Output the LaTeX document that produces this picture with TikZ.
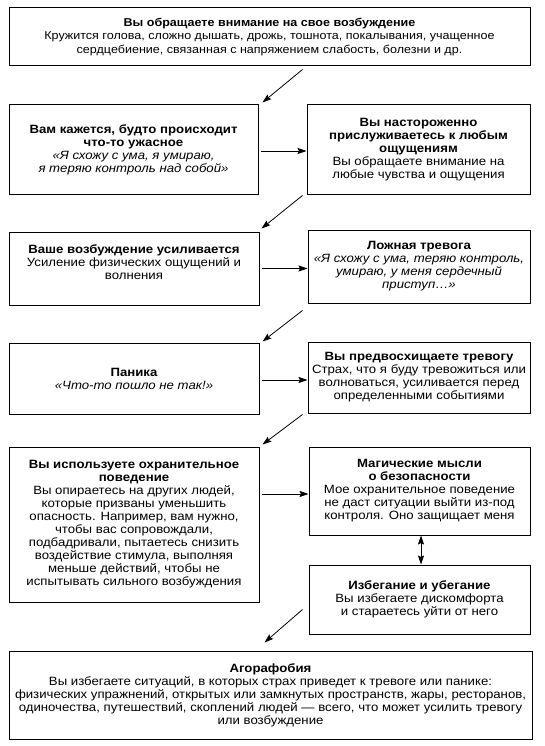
\documentclass[tikz,border=0pt]{standalone}
\usepackage{fontspec}
\setmainfont{Liberation Sans}[FakeStretch=1.1]
\usetikzlibrary{arrows.meta}
\begin{document}
\begin{tikzpicture}[x=1pt,y=-1pt,
  box/.style={draw, line width=1pt, align=center, inner sep=0pt,
    font=\fontsize{12}{13}\selectfont},
  tip/.tip={Stealth[length=9pt,width=6pt,inset=1.5pt]},
  arr/.style={line width=0.8pt, -tip},
  darr/.style={line width=0.8pt, tip-tip}]
\useasboundingbox (0,0) rectangle (545,746);

\node[box, minimum width=521pt, minimum height=58pt, font=\fontsize{11.4}{13.3}\selectfont] (top) at (269.5,37)
  {\textbf{Вы обращаете внимание на свое возбуждение}\\
   Кружится голова, сложно дышать, дрожь, тошнота, покалывания, учащенное\\
   сердцебиение, связанная с напряжением слабость, болезни и др.};

\node[box, minimum width=249pt, minimum height=89pt] (a) at (133.5,149.5)
  {\textbf{Вам кажется, будто происходит}\\
   \textbf{что-то ужасное}\\
   \textit{«Я схожу с ума, я умираю,}\\
   \textit{я теряю контроль над собой»}};

\node[box, minimum width=223pt, minimum height=89pt] (b) at (418.5,149.5)
  {\textbf{Вы настороженно}\\
   \textbf{прислуживаетесь к любым}\\
   \textbf{ощущениям}\\
   Вы обращаете внимание на\\
   любые чувства и ощущения};

\node[box, minimum width=250pt, minimum height=73pt] (c) at (134,268.5)
  {\textbf{Ваше возбуждение усиливается}\\
   Усиление физических ощущений и\\
   волнения\\ \mbox{}};

\node[box, minimum width=222pt, minimum height=73pt] (d) at (419,266.5)
  {\textbf{Ложная тревога}\\
   \textit{«Я схожу с ума, теряю контроль,}\\
   \textit{умираю, у меня сердечный}\\
   \textit{приступ…»}};

\node[box, minimum width=250pt, minimum height=71pt] (e) at (134,378.5)
  {\textbf{Паника}\\
   \textit{«Что-то пошло не так!»}};

\node[box, minimum width=222pt, minimum height=71pt] (f) at (419,377.5)
  {\textbf{Вы предвосхищаете тревогу}\\
   Страх, что я буду тревожиться или\\
   волноваться, усиливается перед\\
   определенными событиями};

\node[box, minimum width=250pt, minimum height=155pt] (g) at (134,524.5)
  {\textbf{Вы используете охранительное}\\
   \textbf{поведение}\\
   Вы опираетесь на других людей,\\
   которые призваны уменьшить\\
   опасность. Например, вам нужно,\\
   чтобы вас сопровождали,\\
   подбадривали, пытаетесь снизить\\
   воздействие стимула, выполняя\\
   меньше действий, чтобы не\\
   испытывать сильного возбуждения};

\node[box, minimum width=221pt, minimum height=88pt] (h) at (419.5,491)
  {\textbf{Магические мысли}\\
   \textbf{о безопасности}\\
   Мое охранительное поведение\\
   не даст ситуации выйти из-под\\
   контроля. Оно защищает меня};

\node[box, minimum width=221pt, minimum height=69pt] (i) at (419.5,599.5)
  {\textbf{Избегание и убегание}\\
   Вы избегаете дискомфорта\\
   и стараетесь уйти от него};

\node[box, minimum width=523pt, minimum height=88pt] (j) at (270.5,695)
  {\textbf{Агорафобия}\\
   Вы избегаете ситуаций, в которых страх приведет к тревоге или панике:\\
   физических упражнений, открытых или замкнутых пространств, жары, ресторанов,\\
   одиночества, путешествий, скоплений людей — всего, что может усилить тревогу\\
   или возбуждение};

% diagonal arrows
\draw[arr] ([xshift=294pt,yshift=-3pt]top.south west) -- ([xshift=4pt,yshift=2pt]a.north east);
\draw[arr] ([xshift=-4pt,yshift=-1pt]b.south west) -- ([xshift=2pt,yshift=3pt]c.north east);
\draw[arr] ([xshift=-5pt,yshift=-7pt]d.south west) -- ([xshift=3pt,yshift=1pt]e.north east);
\draw[arr] ([xshift=-5pt,yshift=-1pt]f.south west) -- ([xshift=3pt,yshift=2pt]g.north east);
\draw[arr] ([xshift=-6pt,yshift=25pt]i.south west) -- ([xshift=-268pt,yshift=8pt]j.north east);

% horizontal arrows
\draw[arr, shorten <=2pt] ([yshift=-1.5pt]a.east) -- ([yshift=-1.5pt]a.east -| b.west);
\draw[arr, shorten <=2pt] (c.east) -- (c.east -| d.west);
\draw[arr, shorten <=2pt] ([yshift=-1.5pt]e.east) -- ([yshift=-1.5pt]e.east -| f.west);
\draw[arr, shorten <=2pt] ([yshift=-3pt]h.west -| g.east) -- ([yshift=-3pt]h.west);

% double arrow
\draw[darr] ([xshift=1.5pt]h.south) -- ([xshift=1.5pt]i.north);
\end{tikzpicture}
\end{document}
